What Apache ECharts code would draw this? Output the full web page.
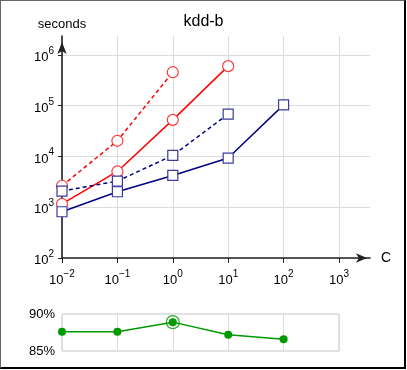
<!DOCTYPE html>
<html>
<head>
<meta charset="utf-8">
<script src="https://cdn.jsdelivr.net/npm/echarts@6/dist/echarts.min.js"></script>
<style>
  html, body { margin: 0; padding: 0; background: #fff; }
  #chart { position: absolute; left: 0; top: 0; width: 407px; height: 370px; }
  #frame {
    position: absolute; left: 0; top: 0; width: 406px; height: 369px; box-sizing: border-box;
    border-left: 1px solid #666; border-top: 1px solid #666;
    border-right: 2px solid #000; border-bottom: 2px solid #000;
    pointer-events: none;
  }
</style>
</head>
<body>
<div id="chart"></div>
<div id="frame"></div>
<script>
// values of C (x axis, log scale)
const cValues = [0.01, 0.1, 1, 10, 100];

// training time in seconds
const redDashed = [2650, 20400, 458000];
const redSolid = [1160, 5070, 52700, 603000];
const blueDashed = [2080, 3280, 10500, 68400];
const blueSolid = [815, 2020, 4230, 9310, 104000];

// test accuracy (%)
const accuracy = [87.6, 87.6, 88.9, 87.2, 86.6];

// axis ranges
const xRange = [0.01, 1000];
const yRange = [100, 1000000];
const accRange = [85, 90];

const FONT = "'Liberation Sans', Arial, Helvetica, sans-serif";

const pts = (ys) => ys.map((y, i) => [cValues[i], y]);

const bestIdx = accuracy.indexOf(Math.max(...accuracy));
const bestPoint = [[cValues[bestIdx], accuracy[bestIdx]]];

const powLabel = (v) => {
  const l = Math.log10(v);
  const e = Math.round(l);
  if (Math.abs(l - e) > 1e-6) return '';
  return '{b|10}{s|' + (e < 0 ? '\u2212' + (-e) : e) + '}';
};
const powRich = {
  b: { fontSize: 13, lineHeight: 18, verticalAlign: 'bottom', color: '#000', fontFamily: FONT },
  s: { fontSize: 10, lineHeight: 10, verticalAlign: 'top', color: '#000', fontFamily: FONT }
};

const chart = echarts.init(document.getElementById('chart'), null, { renderer: 'canvas' });

const gridColor = '#dcdcdc';

const option = {
  animation: false,
  title: {
    text: 'kdd-b',
    left: 'center',
    top: 9,
    textStyle: { fontSize: 16, fontWeight: 'normal', color: '#000', fontFamily: FONT }
  },
  grid: [
    // main plot area (axes with arrows, grid lines)
    { left: 62, top: 36, width: 308, height: 222 },
    // same plot, ticks and labels only (exact decades)
    { left: 62, top: 55, width: 277, height: 203 },
    // accuracy panel
    { left: 62, top: 314, width: 277, height: 37, show: true, borderColor: '#c4c4c4', borderWidth: 1 }
  ],
  xAxis: [
    {
      type: 'log', gridIndex: 0, logBase: 10,
      min: xRange[0], max: Math.pow(10, 3.56),
      name: 'C', nameLocation: 'end', nameGap: 11,
      nameTextStyle: { fontSize: 14, color: '#000', fontFamily: FONT, verticalAlign: 'middle' },
      axisLine: {
        show: true, symbol: ['none', 'arrow'], symbolSize: [7, 11], symbolOffset: [0, -3],
        lineStyle: { color: '#222', width: 1.6 }
      },
      axisTick: { show: false },
      axisLabel: { show: false },
      splitLine: { show: true, showMaxLine: false, lineStyle: { color: gridColor, width: 1 } }
    },
    {
      type: 'log', gridIndex: 1, logBase: 10,
      min: xRange[0], max: xRange[1],
      axisLine: { show: false },
      axisTick: { show: true, length: 5, lineStyle: { color: '#222', width: 1 } },
      axisLabel: { margin: 11, formatter: powLabel, rich: powRich },
      splitLine: { show: false }
    },
    {
      type: 'log', gridIndex: 2, logBase: 10,
      min: xRange[0], max: xRange[1],
      axisLine: { show: false },
      axisTick: { show: false },
      axisLabel: { show: false },
      splitLine: { show: true, lineStyle: { color: gridColor, width: 1 } }
    }
  ],
  yAxis: [
    {
      type: 'log', gridIndex: 0, logBase: 10,
      min: yRange[0], max: Math.pow(10, 6.374),
      name: 'seconds', nameLocation: 'end', nameGap: 5,
      nameTextStyle: { fontSize: 13, color: '#000', fontFamily: FONT, align: 'center' },
      axisLine: {
        show: true, symbol: ['none', 'arrow'], symbolSize: [7, 12], symbolOffset: [0, -6],
        lineStyle: { color: '#222', width: 1.6 }
      },
      axisTick: { show: false },
      axisLabel: { show: false },
      splitLine: { show: true, showMaxLine: false, lineStyle: { color: gridColor, width: 1 } }
    },
    {
      type: 'log', gridIndex: 1, logBase: 10,
      min: yRange[0], max: yRange[1],
      axisLine: { show: false },
      axisTick: { show: true, length: 4, lineStyle: { color: '#222', width: 1 } },
      axisLabel: { margin: 8, formatter: powLabel, rich: powRich },
      splitLine: { show: false }
    },
    {
      type: 'value', gridIndex: 2,
      min: accRange[0], max: accRange[1], interval: 5,
      axisLine: { show: false },
      axisTick: { show: false },
      axisLabel: { margin: 7, formatter: '{value}%', fontSize: 13, color: '#000', fontFamily: FONT },
      splitLine: { show: false }
    }
  ],
  series: [
    {
      type: 'line', xAxisIndex: 0, yAxisIndex: 0, data: pts(redDashed),
      symbol: 'circle', symbolSize: 11, clip: false,
      lineStyle: { color: '#ff0000', width: 1.5, type: [4, 3] },
      itemStyle: { color: '#fff', borderColor: '#ff3a3a', borderWidth: 1.2 }
    },
    {
      type: 'line', xAxisIndex: 0, yAxisIndex: 0, data: pts(redSolid),
      symbol: 'circle', symbolSize: 11, clip: false,
      lineStyle: { color: '#ff0000', width: 1.5 },
      itemStyle: { color: '#fff', borderColor: '#ff3a3a', borderWidth: 1.2 }
    },
    {
      type: 'line', xAxisIndex: 0, yAxisIndex: 0, data: pts(blueDashed),
      symbol: 'rect', symbolSize: 10, clip: false,
      lineStyle: { color: '#000080', width: 1.5, type: [4, 3] },
      itemStyle: { color: '#fff', borderColor: '#3a3aa0', borderWidth: 1.2 }
    },
    {
      type: 'line', xAxisIndex: 0, yAxisIndex: 0, data: pts(blueSolid),
      symbol: 'rect', symbolSize: 10, clip: false,
      lineStyle: { color: '#000080', width: 1.5 },
      itemStyle: { color: '#fff', borderColor: '#3a3aa0', borderWidth: 1.2 }
    },
    {
      type: 'line', xAxisIndex: 2, yAxisIndex: 2, data: pts(accuracy),
      symbol: 'circle', symbolSize: 8, clip: false,
      lineStyle: { color: '#009900', width: 1.5 },
      itemStyle: { color: '#009900', borderWidth: 0 }
    },
    {
      type: 'scatter', xAxisIndex: 2, yAxisIndex: 2, data: bestPoint,
      symbol: 'circle', symbolSize: 13, clip: false,
      itemStyle: { color: 'rgba(0,0,0,0)', borderColor: '#009900', borderWidth: 1.3 }
    }
  ]
};

chart.setOption(option);
window.addEventListener('resize', () => chart.resize());
</script>
</body>
</html>
